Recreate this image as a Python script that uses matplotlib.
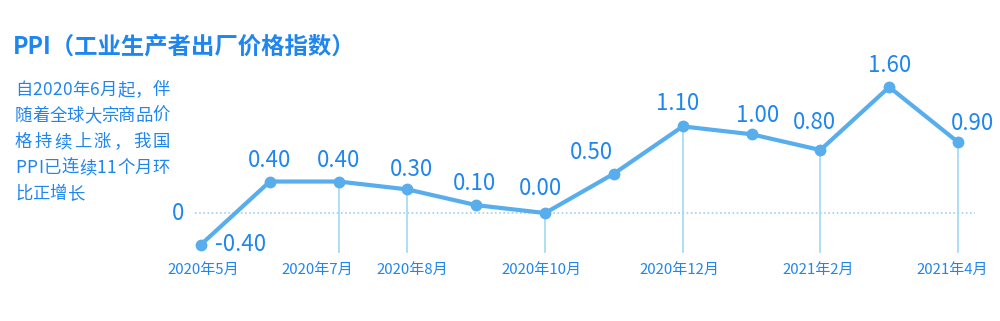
import matplotlib
matplotlib.use("Agg")
import matplotlib.pyplot as plt

plt.rcParams['font.family'] = ['Noto Sans CJK SC', 'DejaVu Sans']

# data
months = ["2020年5月", "2020年6月", "2020年7月", "2020年8月", "2020年9月", "2020年10月",
          "2020年11月", "2020年12月", "2021年1月", "2021年2月", "2021年3月", "2021年4月"]
ppi = [-0.40, 0.40, 0.40, 0.30, 0.10, 0.00, 0.50, 1.10, 1.00, 0.80, 1.60, 0.90]
shown_ticks = [0, 2, 3, 5, 7, 9, 11]
drop_lines = [2, 3, 5, 7, 9, 11]
title = "PPI（工业生产者出厂价格指数）"
note_lines = ["自2020年6月起，伴", "随着全球大宗商品价", "格持续上涨，我国",
              "PPI已连续11个月环", "比正增长"]

# label offsets in pixels (dx, dy)
offsets = [(40, 0), (0, 21), (0, 21), (4, 20), (-2, 22), (-5, 25),
           (-22, 21), (-5, 23), (6, 19), (-6, 28), (0, 22), (14, 19)]
tick_dx = [2, -21, 5, -4, -3, -2, -6]

blue_text = "#1f86ef"
line_col = "#58adec"
drop_col = "#a6dcf2"

fig = plt.figure(figsize=(10, 3.21), dpi=100)
ax = fig.add_axes([0, 0, 1, 1])
ax.set_xlim(-2.921, 11.610)
ax.set_ylim(-1.371, 2.705)
ax.axis("off")

x = list(range(len(months)))

# zero line
ax.plot([-0.09, 11.25], [0, 0], color="#9fd0f5", lw=1.2, ls=(0, (1, 1.5)), zorder=1)
ax.text(-0.33, 0, "0", color=blue_text, fontsize=16, ha="center", va="center")

# drop lines
for i in drop_lines:
    ax.plot([i, i], [ppi[i], -0.5], color=drop_col, lw=1.3, zorder=1)

ax.plot(x, ppi, color=line_col, lw=3, marker="o", markersize=7.5, zorder=3)

for i in x:
    ax.annotate("%.2f" % ppi[i], (i, ppi[i]), xytext=offsets[i], textcoords="offset pixels",
                ha="center", va="center", fontsize=16, color=blue_text)

for i, dx in zip(shown_ticks, tick_dx):
    ax.annotate(months[i], (i, -0.72), xytext=(dx, 0), textcoords="offset pixels",
                ha="center", va="center", fontsize=10.8, color=blue_text)

fig.text(0.013, 1 - 47 / 321, title, fontsize=16.8, fontweight="bold", color=blue_text,
         ha="left", va="center")

# justified note paragraph
left, right = 15, 170
fig.canvas.draw()
renderer = fig.canvas.get_renderer()
for k, line in enumerate(note_lines):
    ypix = 321 - (90 + 26 * k)
    chars = [fig.text(0, ypix / 321, c, fontsize=12.5, color=blue_text, ha="left", va="center")
             for c in line]
    widths = [t.get_window_extent(renderer).width for t in chars]
    if k < len(note_lines) - 1 and len(chars) > 1:
        gap = (right - left - sum(widths)) / (len(chars) - 1)
    else:
        gap = 0
    pos = left
    for t, w in zip(chars, widths):
        t.set_x(pos / 1000)
        pos += w + gap

fig.savefig("out.png", dpi=100)
